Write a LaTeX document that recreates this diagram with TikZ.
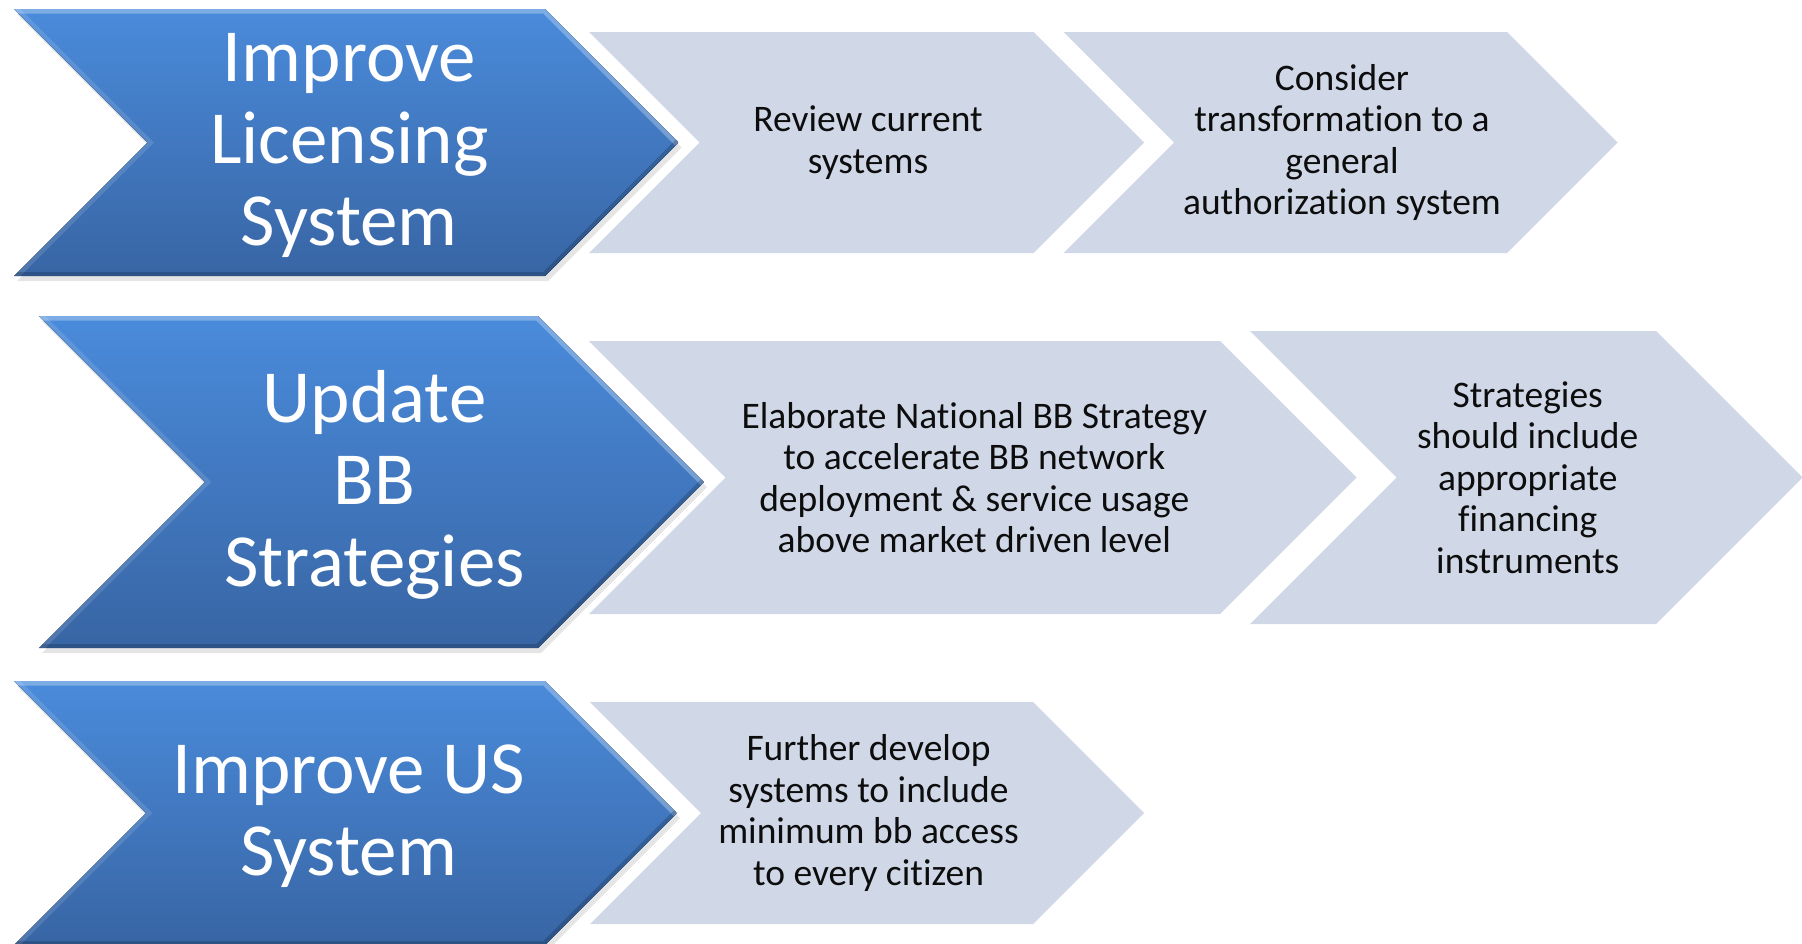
\documentclass[tikz,border=0pt]{standalone}
\usepackage{fontspec}
\setmainfont{Carlito}[Ligatures={NoCommon,NoRare,NoContextual}]
\definecolor{bluetop}{HTML}{4A8BDB}
\definecolor{bluebot}{HTML}{3865A4}
\definecolor{grayfill}{HTML}{D0D8E8}
\definecolor{txtdark}{HTML}{0D0D0D}
\tikzset{
  bluefill/.style={top color=bluetop, bottom color=bluebot},
  grayshape/.style={fill=grayfill},
  bluetext/.style={text=white, align=center, inner sep=0pt, xshift=3pt, yshift=-3pt,
    font=\fontsize{75}{82}\selectfont},
  graytext/.style={text=txtdark, align=center, inner sep=0pt, xshift=1.5pt,
    font=\fontsize{37.5}{41.5}\selectfont},
}
% #1 left x, #2 top-right x, #3 top y, #4 bottom y, #5 name of text centre
\newcommand{\graychev}[5]{%
  \pgfmathsetmacro{\chevhalf}{(#4-#3)/2}%
  \pgfmathsetmacro{\chevmid}{(#4+#3)/2}%
  \fill[grayshape] (#1,#3) -- (#2,#3) -- ({#2+\chevhalf},\chevmid) -- (#2,#4) -- (#1,#4) -- ({#1+\chevhalf},\chevmid) -- cycle;
  \coordinate (#5) at ({(#1+\chevhalf+#2)/2},\chevmid);
}
\newcommand{\bluechev}[5]{%
  \pgfmathsetmacro{\chevhalf}{(#4-#3)/2}%
  \pgfmathsetmacro{\chevmid}{(#4+#3)/2}%
  \fill[black, opacity=.10] (#1+3,#3+5) -- (#2+3,#3+5) -- ({#2+\chevhalf+3},\chevmid+5) -- (#2+3,#4+5) -- (#1+3,#4+5) -- ({#1+\chevhalf+3},\chevmid+5) -- cycle;
  \begin{scope}
    \clip (#1,#3) -- (#2,#3) -- ({#2+\chevhalf},\chevmid) -- (#2,#4) -- (#1,#4) -- ({#1+\chevhalf},\chevmid) -- cycle;
    \fill[bluefill] (#1,#3) rectangle ({#2+\chevhalf},#4);
    \draw[white, opacity=.28, line width=9pt] (#1,#3) -- (#2,#3) -- ({#2+\chevhalf},\chevmid);
    \draw[white, opacity=.12, line width=9pt] (#1,#3) -- ({#1+\chevhalf},\chevmid) -- (#1,#4);
    \draw[black, opacity=.18, line width=8pt] ({#2+\chevhalf},\chevmid) -- (#2,#4) -- (#1,#4);
  \end{scope}
  \coordinate (#5) at ({(#1+\chevhalf+#2)/2},\chevmid);
}
\begin{document}
\begin{tikzpicture}[x=1pt, y=-1pt]
\useasboundingbox (0,0) rectangle (1802,943);
\fill[white] (0,0) rectangle (1802,943);

% row 1
\graychev{589}{1033.5}{32}{253}{c12}
\graychev{1063.5}{1507}{32}{253}{c13}
\bluechev{14}{545}{9}{276}{c11}
\node[bluetext] (t11) at (c11) {Improve\\Licensing\\System};
\node[graytext] (t12) at (c12) {Review current\\systems};
\node[graytext] (t13) at (c13) {Consider\\transformation to a\\general\\authorization system};

% row 2
\graychev{589}{1220}{341}{614}{c22}
\graychev{1250}{1656}{331}{624}{c23}
\bluechev{39}{538}{316}{648}{c21}
\node[bluetext] (t21) at (c21) {Update\\BB\\Strategies};
\node[graytext] (t22) at (c22) {Elaborate National BB Strategy\\to accelerate BB network\\deployment \& service usage\\above market driven level};
\node[graytext] (t23) at (c23) {Strategies\\should include\\appropriate\\financing\\instruments};

% row 3
\graychev{590}{1033}{702}{924}{c32}
\bluechev{14}{545}{681}{945}{c31}
\node[bluetext] (t31) at (c31) {Improve US\\System};
\node[graytext] (t32) at (c32) {Further develop\\systems to include\\minimum bb access\\to every citizen};
\end{tikzpicture}
\end{document}
